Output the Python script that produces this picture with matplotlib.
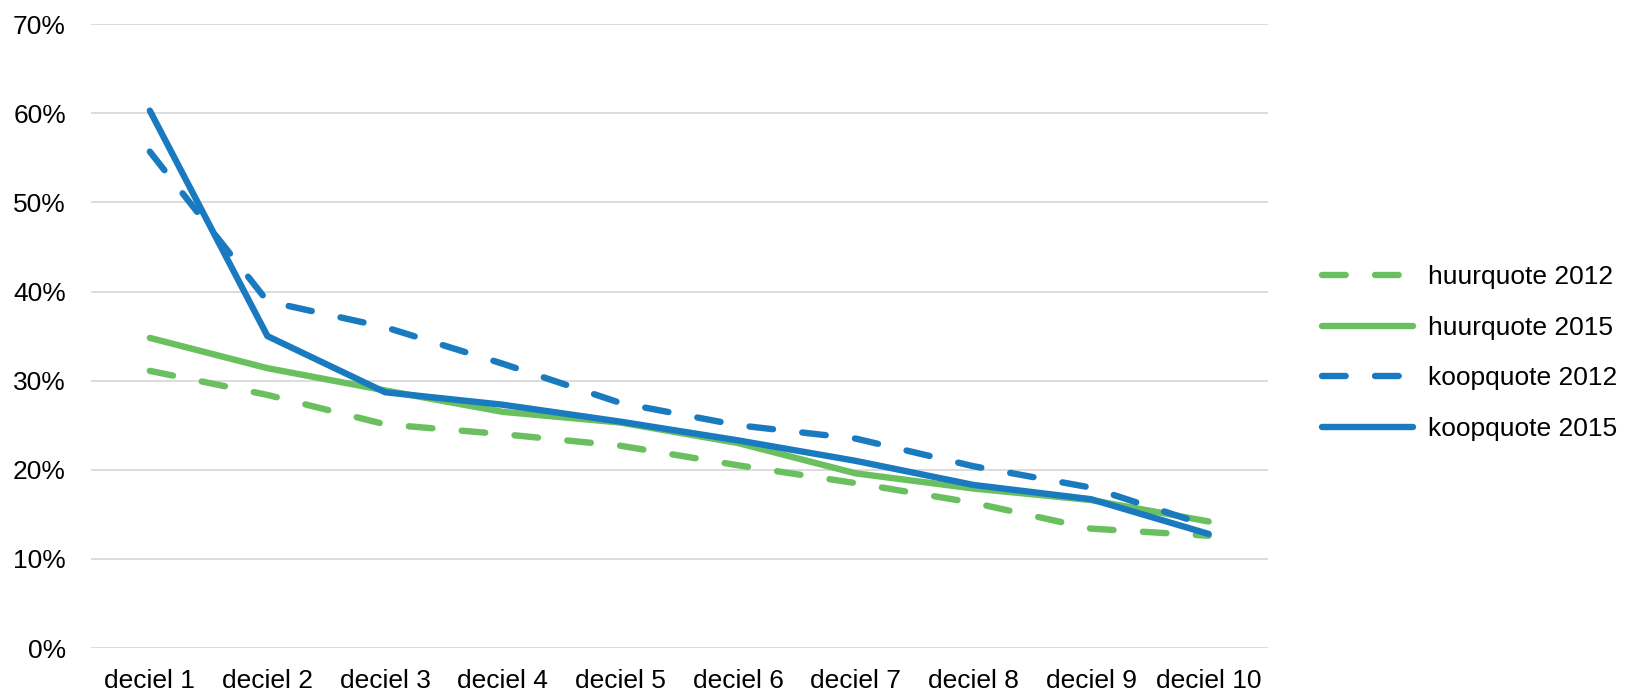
import matplotlib
matplotlib.use("Agg")
import matplotlib.pyplot as plt
from matplotlib.ticker import PercentFormatter

plt.rcParams['font.family'] = ['Liberation Sans', 'DejaVu Sans']

# data (fractions)
deciles = ['deciel 1', 'deciel 2', 'deciel 3', 'deciel 4', 'deciel 5',
           'deciel 6', 'deciel 7', 'deciel 8', 'deciel 9', 'deciel 10']
huur_2012 = [0.311, 0.284, 0.251, 0.240, 0.227, 0.205, 0.185, 0.163, 0.134, 0.126]
huur_2015 = [0.348, 0.314, 0.289, 0.265, 0.253, 0.230, 0.196, 0.179, 0.166, 0.142]
koop_2012 = [0.557, 0.389, 0.360, 0.319, 0.275, 0.250, 0.235, 0.204, 0.180, 0.137]
koop_2015 = [0.603, 0.350, 0.287, 0.273, 0.254, 0.233, 0.210, 0.183, 0.167, 0.128]

green = '#6abf5e'
blue = '#1a7abf'

fig = plt.figure(figsize=(16.25, 6.91), dpi=100)
ax = fig.add_axes([0.056, 0.0622, 0.724, 0.9028])

x = range(len(deciles))
lw = 4.6
dash = (3.7, 4.6)
ax.plot(x, huur_2012, color=green, lw=lw, linestyle=(0, dash),
        dash_capstyle='round', solid_capstyle='round', label='huurquote 2012')
ax.plot(x, huur_2015, color=green, lw=lw, solid_capstyle='round',
        label='huurquote 2015')
ax.plot(x, koop_2012, color=blue, lw=lw, linestyle=(0, dash),
        dash_capstyle='round', label='koopquote 2012')
ax.plot(x, koop_2015, color=blue, lw=lw, solid_capstyle='round',
        label='koopquote 2015')

ax.set_xlim(-0.5, len(deciles) - 0.5)
ax.set_ylim(0, 0.7)
ax.set_xticks(list(x))
ax.set_xticklabels(deciles)
ax.set_yticks([i / 10 for i in range(8)])
ax.yaxis.set_major_formatter(PercentFormatter(1.0, decimals=0))
ax.tick_params(length=0, labelsize=19, colors='#000000')
ax.tick_params(axis='x', pad=15)
ax.tick_params(axis='y', pad=18)
ax.grid(axis='y', color='#d9d9d9', lw=1.3)
ax.set_axisbelow(True)
for s in ax.spines.values():
    s.set_visible(False)

leg = fig.legend(loc='center left', bbox_to_anchor=(0.8134, 0.489), frameon=False,
                 fontsize=19, handlelength=3.47, handletextpad=0.55,
                 labelspacing=1.01, borderpad=0, borderaxespad=0)

fig.savefig('out.png', dpi=100)
